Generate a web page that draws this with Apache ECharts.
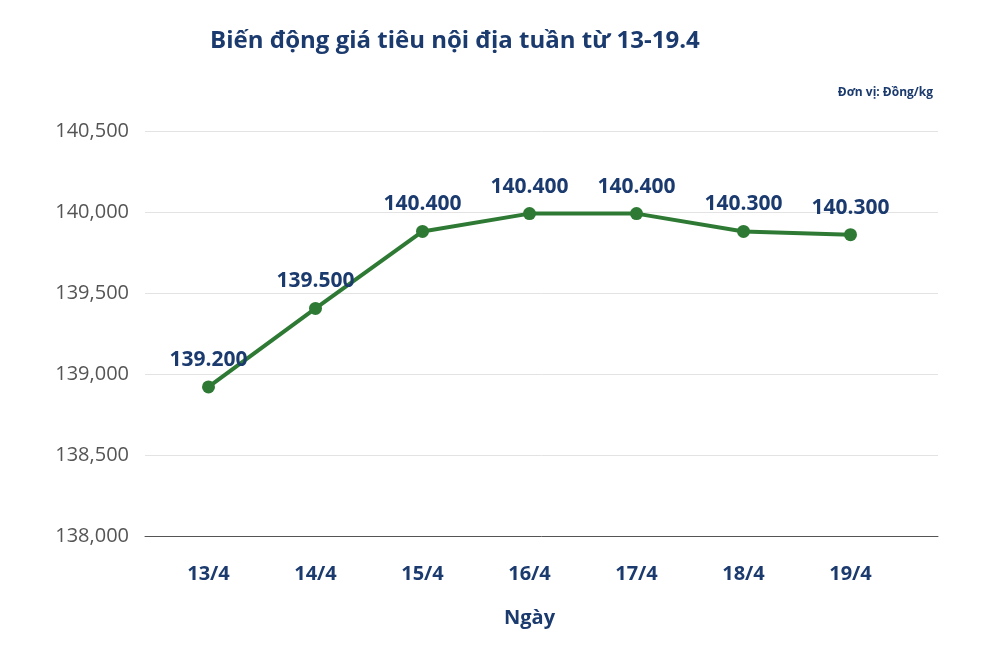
<!DOCTYPE html>
<html><head><meta charset="utf-8">
<script src="https://cdn.jsdelivr.net/npm/echarts@6/dist/echarts.min.js"></script>
<style>html,body{margin:0;background:#fff}#c{width:990px;height:646px}</style>
</head><body><div id="c"></div>
<script>
var days = ['13/4', '14/4', '15/4', '16/4', '17/4', '18/4', '19/4'];
// point positions as drawn in the picture
var prices = [138920, 139405, 139880, 139990, 139990, 139880, 139860];
// value labels as printed on the picture
var priceLabels = ['139.200', '139.500', '140.400', '140.400', '140.400', '140.300', '140.300'];
var yTicks = [138000, 138500, 139000, 139500, 140000, 140500];

var navy = '#1b3a6e';
var yMin = yTicks[0], yMax = yTicks[yTicks.length - 1];
var chart = echarts.init(document.getElementById('c'));
chart.setOption({
    textStyle: { fontFamily: 'Open Sans' },
    title: [
        { text: 'Biến động giá tiêu nội địa tuần từ 13-19.4', left: 205, top: 24,
          textStyle: { fontSize: 24, fontWeight: 'bold', color: navy } },
        { text: 'Đơn vị: Đồng/kg', right: 52, top: 82,
          textStyle: { fontSize: 12, fontWeight: 'bold', color: navy } }
    ],
    grid: [
        { left: 145, right: 52, top: 131, bottom: 110 },
        { left: 155, right: 86, top: 131, bottom: 110 }
    ],
    xAxis: [{
        gridIndex: 0, type: 'category', data: [''],
        axisLine: { lineStyle: { color: '#555' } },
        axisTick: { show: false }, axisLabel: { show: false }
    }, {
        gridIndex: 1, type: 'category', data: days, boundaryGap: true,
        name: 'Ngày', nameLocation: 'middle', nameGap: 72,
        nameTextStyle: { fontSize: 20, fontWeight: 'bold', color: navy },
        axisLine: { show: false },
        axisTick: { show: false },
        axisLabel: { fontSize: 20, fontWeight: 'bold', color: navy, margin: 28 }
    }],
    yAxis: [{
        gridIndex: 0, type: 'value', min: yMin, max: yMax, interval: 500,
        axisLabel: { fontSize: 20, color: '#555', margin: 16,
            formatter: function (v) { return v.toLocaleString('en-US'); } },
        splitLine: { lineStyle: { color: '#e3e3e3' } }
    }, {
        gridIndex: 1, type: 'value', min: yMin, max: yMax, interval: 500,
        axisLabel: { show: false }, splitLine: { show: false }
    }],
    series: [{
        type: 'line', xAxisIndex: 1, yAxisIndex: 1, data: prices, symbol: 'circle', symbolSize: 13,
        lineStyle: { color: '#2e7a34', width: 4 },
        itemStyle: { color: '#2e7a34' },
        label: { show: true, position: 'top', distance: 10, fontSize: 21, fontWeight: 'bold', color: navy,
            formatter: function (p) { return priceLabels[p.dataIndex]; } }
    }]
});
</script></body></html>
